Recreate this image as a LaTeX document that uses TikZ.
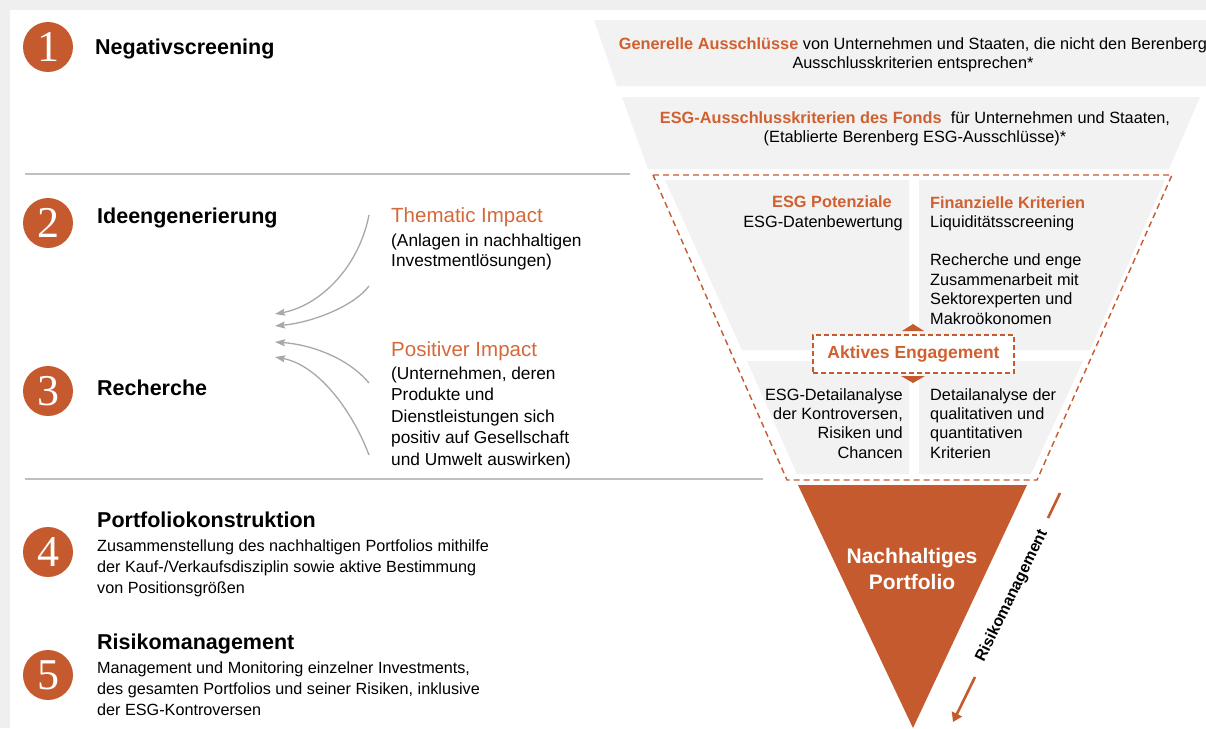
\documentclass[tikz,border=0pt]{standalone}
\usepackage{fontspec}
\setmainfont{Liberation Sans}
\newfontfamily\numfont{Liberation Serif}
\usetikzlibrary{arrows.meta}
\definecolor{ora}{HTML}{C55A2F}
\definecolor{oratext}{HTML}{D0602F}
\definecolor{oralight}{HTML}{D5693A}
\definecolor{panel}{HTML}{F2F2F2}
\definecolor{bggray}{HTML}{EFEFEF}
\definecolor{rulegray}{HTML}{BFBFBF}
\definecolor{arrgray}{HTML}{A8A8A8}
\tikzset{
  num/.style={circle, fill=ora, minimum size=50pt, inner sep=0pt, text=white,
    font=\numfont\fontsize{44}{44}\selectfont},
  steptitle/.style={anchor=base west, inner sep=0pt, font=\bfseries\fontsize{21.5}{24}\selectfont},
  stepdesc/.style={anchor=north west, inner sep=0pt, align=left, font=\fontsize{16.2}{21}\selectfont},
  ftext/.style={inner sep=0pt, font=\fontsize{16.3}{19.4}\selectfont},
  ftitle/.style={inner sep=0pt, text=oratext, font=\bfseries\fontsize{16.3}{19.4}\selectfont},
  imptitle/.style={anchor=base west, inner sep=0pt, text=oralight, font=\fontsize{20.5}{24}\selectfont},
  impbody/.style={anchor=north west, inner sep=0pt, align=left},
  rulestyle/.style={draw=rulegray, line width=1.2pt},
  garrow/.style={draw=arrgray, line width=1.3pt, -{Stealth[length=10pt,width=7pt,inset=1.5pt]}},
  rmline/.style={draw=ora, line width=2.6pt},
}
\begin{document}
\begin{tikzpicture}[x=1pt,y=-1pt]
\useasboundingbox (0,0) rectangle (1206,728);
\fill[bggray] (0,0) rectangle (1206,728);
\fill[white] (10,10) rectangle (1206,728);

% separating rules
\coordinate (r1a) at (25,174);
\coordinate (r1b) at (630,174);
\coordinate (r2a) at (25,479);
\coordinate (r2b) at (763,479);
\draw[rulestyle] (r1a) -- (r1b);
\draw[rulestyle] (r2a) -- (r2b);

% funnel bands
\fill[panel] (594,20) -- (1206,20) -- (1206,86) -- (617,86) -- cycle;
\fill[panel] (622,97) -- (1200,97) -- (1169,169) -- (648,169) -- cycle;
\node[ftext, align=center, anchor=north] (band1) at (913,37.5)
  {{\bfseries\color{oratext}Generelle Ausschlüsse} von Unternehmen und Staaten, die nicht den Berenberg\\Ausschlusskriterien entsprechen*};
\node[ftext, align=center, anchor=north] (band2) at (915,111)
  {{\bfseries\color{oratext}ESG-Ausschlusskriterien des Fonds}\ \ für Unternehmen und Staaten,\\(Etablierte Berenberg ESG-Ausschlüsse)*};

% dashed funnel section
\draw[ora, line width=1.4pt, dash pattern=on 6pt off 4pt] (653,175) -- (1172,175) -- (1037,480) -- (787,480) -- cycle;
\fill[panel] (665,180) -- (909,180) -- (909,350) -- (742,350) -- cycle;
\fill[panel] (919,180) -- (1165,180) -- (1090,350) -- (919,350) -- cycle;
\fill[panel] (747,361) -- (909,361) -- (909,474) -- (797,474) -- cycle;
\fill[panel] (919,361) -- (1083,361) -- (1031,474) -- (919,474) -- cycle;

\node[ftitle, anchor=base east] (potT) at (892,207) {ESG Potenziale};
\node[ftext, anchor=base east] (potB) at (903,227) {ESG-Datenbewertung};
\node[ftitle, anchor=base west] (finT) at (930,208) {Finanzielle Kriterien};
\node[ftext, anchor=north west, align=left] (finB) at (930,215)
  {Liquiditätsscreening\\[19.4pt]Recherche und enge\\Zusammenarbeit mit\\Sektorexperten und\\Makroökonomen};
\node[ftext, anchor=north east, align=right] (esgD) at (903,388)
  {ESG-Detailanalyse\\der Kontroversen,\\Risiken und\\Chancen};
\node[ftext, anchor=north west, align=left] (detD) at (930,388)
  {Detailanalyse der\\qualitativen und\\quantitativen\\Kriterien};

% Aktives Engagement
\fill[ora] (902,331) -- (924,331) -- (913,324) -- cycle;
\fill[ora] (901,376) -- (925,376) -- (913,383) -- cycle;
\node[draw=ora, line width=1.3pt, dash pattern=on 5pt off 3pt, fill=white,
  minimum width=201pt, minimum height=38pt, inner sep=0pt, text=oratext,
  font=\bfseries\fontsize{17.5}{20}\selectfont] (akt) at (913.5,354) {Aktives Engagement};

% portfolio triangle
\fill[ora] (798,485) -- (1027,485) -- (913,728) -- cycle;
\node[inner sep=0pt, text=white, align=center, anchor=north,
  font=\bfseries\fontsize{21}{26}\selectfont] (np) at (912,548) {Nachhaltiges\\Portfolio};

% risk management arrow
\coordinate (rmA) at (1060,493);
\coordinate (rmB) at (1048,518);
\coordinate (rmC) at (975,677);
\coordinate (rmD) at (953,722);
\draw[rmline] (rmA) -- (rmB);
\draw[rmline, -{Triangle[length=9pt,width=11pt]}] (rmC) -- (rmD);
\node[inner sep=0pt, rotate=64, font=\bfseries\fontsize{15.8}{18}\selectfont] (rmtext) at (1012,596) {Risikomanagement};

% steps
\node[num] (n1) at (48,47) {1};
\node[num] (n2) at (48,223) {2};
\node[num] (n3) at (48,391) {3};
\node[num] (n4) at (48,552) {4};
\node[num] (n5) at (48,675) {5};
\node[steptitle] (s1) at (95,54.5) {Negativscreening};
\node[steptitle] (s2) at (97,223.5) {Ideengenerierung};
\node[steptitle] (s3) at (97,395.5) {Recherche};
\node[steptitle] (s4) at (97,527.5) {Portfoliokonstruktion};
\node[stepdesc] (d4) at (97,539.3)
  {Zusammenstellung des nachhaltigen Portfolios mithilfe\\der Kauf-/Verkaufsdisziplin sowie aktive Bestimmung\\von Positionsgrößen};
\node[steptitle] (s5) at (97,649.5) {Risikomanagement};
\node[stepdesc] (d5) at (97,661.3)
  {Management und Monitoring einzelner Investments,\\des gesamten Portfolios und seiner Risiken, inklusive\\der ESG-Kontroversen};

% impact texts
\node[imptitle] (thT) at (391,222) {Thematic Impact};
\node[impbody, font=\fontsize{17.3}{20}\selectfont] (thB) at (391,233.4)
  {(Anlagen in nachhaltigen\\Investmentlösungen)};
\node[imptitle] (poT) at (391,356) {Positiver Impact};
\node[impbody, font=\fontsize{17.3}{21.5}\selectfont] (poB) at (391,366.4)
  {(Unternehmen, deren\\Produkte und\\Dienstleistungen sich\\positiv auf Gesellschaft\\und Umwelt auswirken)};

% arrows
\coordinate (a1s) at (369,215);
\coordinate (a1e) at (275,314);
\coordinate (a2s) at (369,286);
\coordinate (a2e) at (275,326);
\coordinate (a3s) at (369,383);
\coordinate (a3e) at (275,342);
\coordinate (a4s) at (369,455);
\coordinate (a4e) at (275,357);
\draw[garrow] (a1s) .. controls (358,270) and (318,306) .. (a1e);
\draw[garrow] (a2s) .. controls (355,305) and (315,322) .. (a2e);
\draw[garrow] (a3s) .. controls (350,360) and (315,345) .. (a3e);
\draw[garrow] (a4s) .. controls (352,410) and (318,365) .. (a4e);
\end{tikzpicture}
\end{document}
